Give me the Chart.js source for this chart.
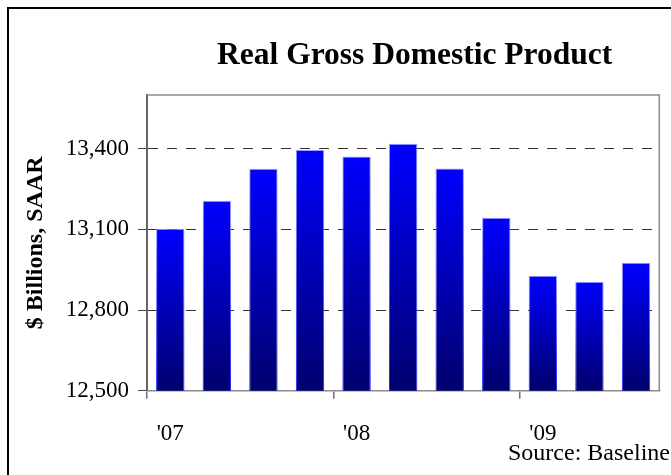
<!DOCTYPE html>
<html>
<head>
<meta charset="utf-8">
<script src="https://cdn.jsdelivr.net/npm/chart.js@4/dist/chart.umd.min.js"></script>
<style>
  html, body { margin: 0; padding: 0; background: #ffffff; }
  #wrap { position: relative; width: 671px; height: 475px; overflow: hidden; background: #ffffff; }
  #frame { position: absolute; left: 7px; top: 7px; width: 720px; height: 520px; border: 2px solid #000; box-sizing: border-box; }
  #c { position: absolute; left: 0; top: 0; }
</style>
</head>
<body>
<div id="wrap">
  <div id="frame"></div>
  <canvas id="c" width="671" height="475"></canvas>
</div>
<script>
// ---- Data ----
const quarters = ["2007 Q1", "2007 Q2", "2007 Q3", "2007 Q4",
                  "2008 Q1", "2008 Q2", "2008 Q3", "2008 Q4",
                  "2009 Q1", "2009 Q2", "2009 Q3"];
const xTickLabels = ["'07", "", "", "", "'08", "", "", "", "'09", "", ""];
const gdp = [13102, 13207, 13326, 13395, 13371, 13419, 13327, 13143, 12928, 12905, 12976];
const yTicks = [12500, 12800, 13100, 13400];
const yMin = 12500;
const yMax = 13600;
const titleText = "Real Gross Domestic Product";
const yTitleText = "$ Billions, SAAR";
const sourceText = "Source: Baseline";

const SERIF = "'Liberation Serif', 'Times New Roman', serif";

function barGradient(c, top, bottom) {
  const chart = c.chart;
  const area = chart.chartArea;
  if (!area || c.type !== 'data' || !chart.scales.y) return top;
  const yTop = chart.scales.y.getPixelForValue(c.raw);
  const g = chart.ctx.createLinearGradient(0, yTop, 0, area.bottom);
  g.addColorStop(0, top);
  g.addColorStop(1, bottom);
  return g;
}

const plotFrame = {
  id: 'plotFrame',
  beforeDatasetsDraw(chart) {
    const { ctx, chartArea: a } = chart;
    ctx.save();
    ctx.strokeStyle = '#8c8c8c';
    ctx.lineWidth = 1.5;
    ctx.beginPath();
    ctx.moveTo(a.left, a.top);
    ctx.lineTo(a.right, a.top);
    ctx.lineTo(a.right, a.bottom);
    ctx.stroke();
    ctx.restore();
  }
};

const placeTexts = {
  id: 'placeTexts',
  afterLayout(chart) {
    const a = chart.chartArea;
    const t = chart.titleBlock;
    if (t) {
      const d = (a.left + a.right) / 2 + 11.5 - (t.left + t.right) / 2;
      t.left += d; t.right += d;
    }
    chart.boxes.forEach(b => {
      if (b !== t && b.options && b.options.text === sourceText) {
        const w = b.right - b.left;
        b.left = 508; b.right = 508 + w;
      }
    });
  }
};

new Chart(document.getElementById('c'), {
  type: 'bar',
  data: {
    labels: xTickLabels,
    datasets: [{
      label: 'Real GDP',
      data: gdp,
      backgroundColor: c => barGradient(c, '#0000ff', '#00006c'),
      borderColor: c => barGradient(c, '#9c9cff', '#1a1aff'),
      borderWidth: { top: 1, left: 1, right: 1, bottom: 0 },
      borderSkipped: false,
      barPercentage: 0.61,
      categoryPercentage: 1.0
    }]
  },
  options: {
    responsive: false,
    animation: false,
    devicePixelRatio: 1,
    layout: { padding: { left: 0, right: 11.7, top: 0, bottom: 15.3 } },
    plugins: {
      legend: { display: false },
      tooltip: { enabled: false },
      title: {
        display: true,
        text: titleText,
        color: '#000',
        font: { family: SERIF, size: 31.5, weight: 'bold', lineHeight: 1.2 },
        padding: { top: 36.6, bottom: 20.6 }
      },
      subtitle: {
        display: true,
        position: 'bottom',
        align: 'start',
        text: sourceText,
        color: '#000',
        font: { family: SERIF, size: 24, weight: 'normal', lineHeight: 0.5 },
        padding: { top: 0, bottom: 0 }
      }
    },
    scales: {
      x: {
        type: 'category',
        offset: true,
        afterFit: s => { s.height = 57; },
        grid: {
          display: true,
          drawOnChartArea: false,
          drawTicks: true,
          offset: true,
          tickLength: 8,
          lineWidth: 1.5,
          color: 'rgba(0,0,0,0)',
          tickColor: c => (c.index % 4 === 0 ? '#707070' : 'rgba(0,0,0,0)')
        },
        border: { display: true, color: '#8c8c8c', width: 1.5 },
        ticks: {
          autoSkip: false,
          maxRotation: 0,
          minRotation: 0,
          padding: 21.4,
          color: '#000',
          font: { family: SERIF, size: 23, lineHeight: 1.2 }
        }
      },
      y: {
        min: yMin,
        max: yMax,
        afterBuildTicks: s => { s.ticks = yTicks.map(v => ({ value: v })); },
        afterFit: s => { s.width = 147; },
        grid: {
          drawTicks: true,
          tickLength: 9,
          lineWidth: 1,
          color: c => (c.tick && c.tick.value === yMin ? 'rgba(0,0,0,0)' : '#333333'),
          tickColor: '#444444'
        },
        border: { display: true, color: '#666666', width: 2, dash: [10, 9] },
        ticks: {
          padding: 9,
          color: '#000',
          font: { family: SERIF, size: 23, lineHeight: 1.2 },
          callback: v => Number(v).toLocaleString('en-US')
        },
        title: {
          display: true,
          text: yTitleText,
          color: '#000',
          font: { family: SERIF, size: 24, weight: 'bold', lineHeight: 1.2 },
          padding: { top: 21.6, bottom: 16.6 }
        }
      }
    }
  },
  plugins: [plotFrame, placeTexts]
});
</script>
</body>
</html>
